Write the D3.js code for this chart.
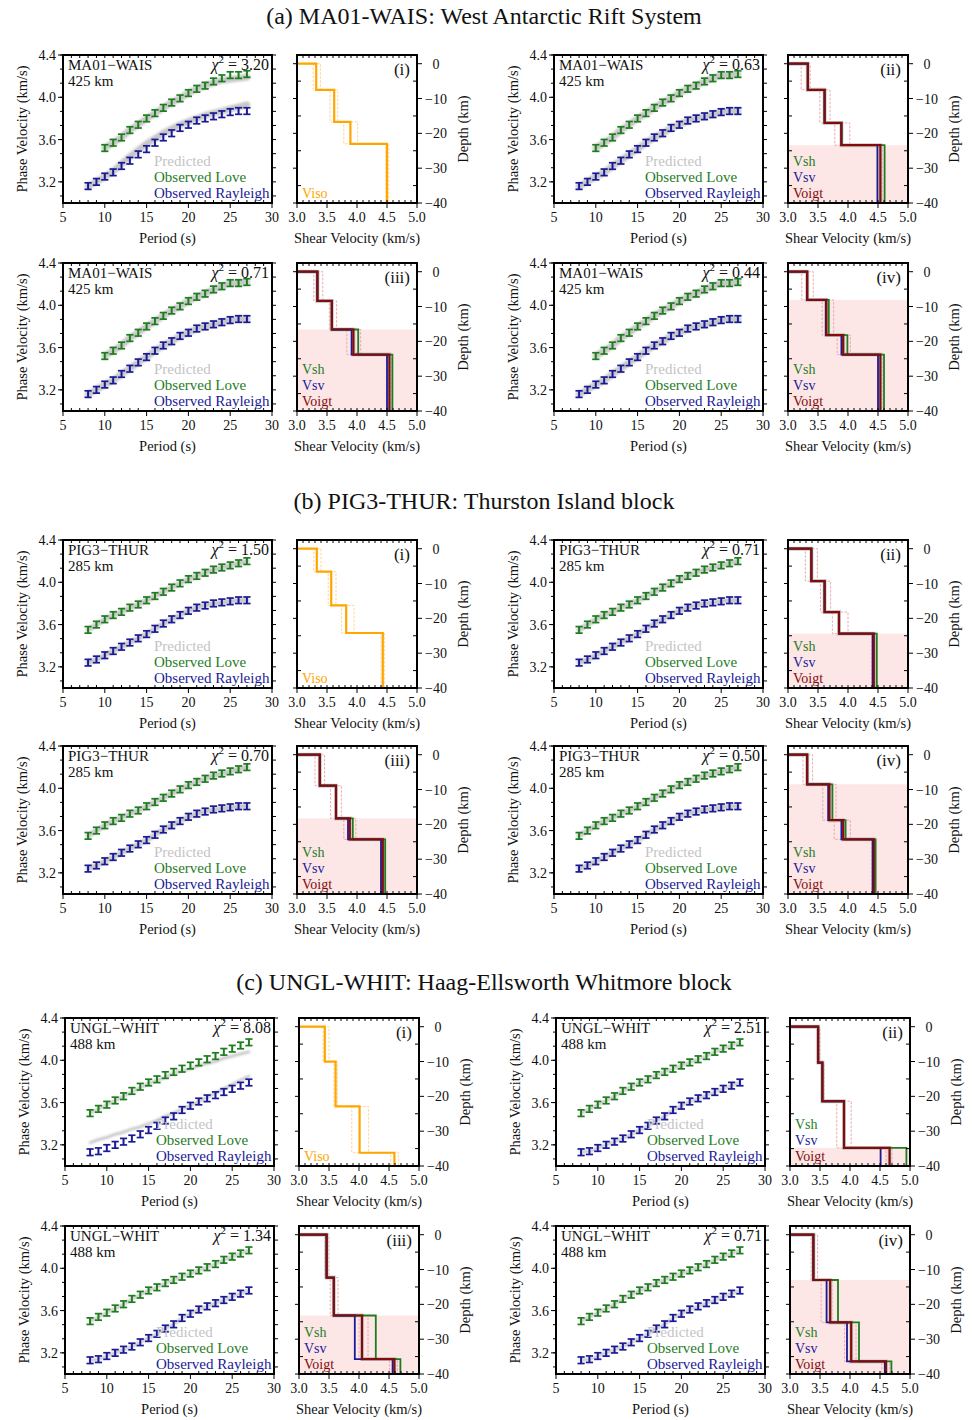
<!DOCTYPE html>
<html>
<head>
<meta charset="utf-8">
<script src="https://cdn.jsdelivr.net/npm/d3@7"></script>
<style>
  body { margin: 0; background: #fff; }
  svg text { font-family: "Liberation Serif", "Times New Roman", serif; fill: #111; }
</style>
</head>
<body>
<svg id="fig" width="972" height="1420"></svg>
<script>
// ---------------- periods (s) ----------------
const periodsRay    = [8, 9, 10, 11, 12, 13, 14, 15, 16, 17, 18, 19, 20, 21, 22, 23, 24, 25, 26, 27];
const periodsLoveA  = [10, 11, 12, 13, 14, 15, 16, 17, 18, 19, 20, 21, 22, 23, 24, 25, 26, 27];
const periodsLoveBC = [8, 9, 10, 11, 12, 13, 14, 15, 16, 17, 18, 19, 20, 21, 22, 23, 24, 25, 26, 27];
const obsUncert = 0.031;   // km/s, half-height of the error bars

// ---------------- (a) MA01-WAIS dispersion (km/s) ----------------
const aLoveObs  = [3.52, 3.57, 3.62, 3.69, 3.74, 3.80, 3.85, 3.90, 3.95, 3.99, 4.04, 4.08, 4.11, 4.15, 4.18, 4.21, 4.21, 4.22];
const aRayObs   = [3.16, 3.20, 3.25, 3.29, 3.35, 3.40, 3.46, 3.51, 3.57, 3.62, 3.66, 3.71, 3.74, 3.78, 3.80, 3.82, 3.84, 3.86, 3.87, 3.87];
const aLovePredIso = [3.52, 3.57, 3.62, 3.69, 3.74, 3.80, 3.85, 3.90, 3.95, 3.99, 4.04, 4.08, 4.11, 4.14, 4.16, 4.17, 4.18, 4.19];
const aRayPredIso  = [3.16, 3.20, 3.25, 3.30, 3.37, 3.44, 3.50, 3.56, 3.61, 3.66, 3.70, 3.74, 3.77, 3.80, 3.83, 3.85, 3.87, 3.89, 3.91, 3.93];

// ---------------- (b) PIG3-THUR dispersion ----------------
const bLoveObs  = [3.55, 3.60, 3.65, 3.69, 3.72, 3.76, 3.79, 3.83, 3.87, 3.91, 3.95, 3.99, 4.03, 4.06, 4.09, 4.12, 4.14, 4.16, 4.18, 4.20];
const bRayObs   = [3.24, 3.27, 3.31, 3.35, 3.39, 3.43, 3.47, 3.51, 3.56, 3.61, 3.65, 3.69, 3.73, 3.76, 3.78, 3.80, 3.81, 3.82, 3.83, 3.83];

// ---------------- (c) UNGL-WHIT dispersion ----------------
const cLoveObs  = [3.50, 3.54, 3.58, 3.62, 3.66, 3.71, 3.75, 3.79, 3.82, 3.86, 3.89, 3.92, 3.95, 3.98, 4.01, 4.04, 4.08, 4.11, 4.14, 4.17];
const cRayObs   = [3.13, 3.14, 3.17, 3.20, 3.23, 3.26, 3.30, 3.34, 3.38, 3.43, 3.47, 3.53, 3.57, 3.61, 3.64, 3.67, 3.70, 3.73, 3.76, 3.79];
const cLovePredIso = [3.50, 3.54, 3.58, 3.62, 3.66, 3.70, 3.74, 3.78, 3.81, 3.84, 3.88, 3.90, 3.92, 3.95, 3.97, 3.99, 4.02, 4.04, 4.06, 4.08];
const cRayPredIso  = [3.22, 3.25, 3.27, 3.30, 3.32, 3.35, 3.37, 3.40, 3.43, 3.47, 3.50, 3.54, 3.57, 3.61, 3.65, 3.69, 3.73, 3.77, 3.81, 3.85];

// ---------------- chi-square misfits ----------------
const aChi2 = ["3.20", "0.63", "0.71", "0.44"];
const bChi2 = ["1.50", "0.71", "0.70", "0.50"];
const cChi2 = ["8.08", "2.51", "1.34", "0.71"];

// ---------------- shear-velocity models: layer interfaces (km) and Vs (km/s) ----------------
// (a)
const aDepthI = [0, -7.5, -16.7, -23.0, -40];
const aVisoI  = [3.32, 3.62, 3.89, 4.50];
const aLoI    = [3.27, 3.55, 3.78, 4.48];
const aHiI    = [3.39, 3.68, 4.01, 4.53];

const aDepthII = [0, -7.5, -17.0, -23.4, -40];
const aVoigtII = [3.33, 3.61, 3.89, 4.54];
const aVshII   = [3.33, 3.61, 3.89, 4.61];
const aVsvII   = [3.33, 3.61, 3.89, 4.49];
const aLoII    = [3.22, 3.53, 3.78, 4.51];
const aHiII    = [3.37, 3.70, 4.03, 4.57];
const aAnisoTopII = -23.4;

const aDepthIII = [0, -8.4, -16.6, -23.8, -40];
const aVoigtIII = [3.34, 3.58, 3.94, 4.54];
const aVshIII   = [3.34, 3.58, 4.02, 4.59];
const aVsvIII   = [3.34, 3.58, 3.91, 4.50];
const aLoIII    = [3.28, 3.54, 3.83, 4.51];
const aHiIII    = [3.43, 3.66, 4.06, 4.57];
const aAnisoTopIII = -16.6;

const aDepthIV = [0, -8.1, -18.2, -23.8, -40];
const aVoigtIV = [3.32, 3.64, 3.92, 4.54];
const aVshIV   = [3.32, 3.68, 3.99, 4.60];
const aVsvIV   = [3.32, 3.63, 3.89, 4.50];
const aLoIV    = [3.23, 3.57, 3.82, 4.51];
const aHiIV    = [3.42, 3.76, 4.04, 4.57];
const aAnisoTopIV = -8.1;

// (b)
const bDepthI = [0, -6.6, -16.3, -24.2, -40];
const bVisoI  = [3.33, 3.57, 3.82, 4.43];
const bLoI    = [3.28, 3.52, 3.74, 4.40];
const bHiI    = [3.40, 3.65, 3.95, 4.46];

const bDepthII = [0, -9.3, -18.2, -24.4, -40];
const bVoigtII = [3.39, 3.61, 3.85, 4.43];
const bVshII   = [3.39, 3.61, 3.85, 4.48];
const bVsvII   = [3.39, 3.61, 3.85, 4.41];
const bLoII    = [3.29, 3.54, 3.74, 4.40];
const bHiII    = [3.49, 3.71, 4.00, 4.46];
const bAnisoTopII = -24.4;

const bDepthIII = [0, -8.9, -18.3, -24.3, -40];
const bVoigtIII = [3.38, 3.65, 3.88, 4.43];
const bVshIII   = [3.38, 3.65, 3.93, 4.47];
const bVsvIII   = [3.38, 3.65, 3.85, 4.40];
const bLoIII    = [3.30, 3.56, 3.78, 4.40];
const bHiIII    = [3.46, 3.74, 3.98, 4.46];
const bAnisoTopIII = -18.3;

const bDepthIV = [0, -8.5, -18.8, -24.3, -40];
const bVoigtIV = [3.32, 3.69, 3.92, 4.43];
const bVshIV   = [3.32, 3.74, 3.96, 4.46];
const bVsvIV   = [3.32, 3.67, 3.89, 4.41];
const bLoIV    = [3.25, 3.58, 3.77, 4.40];
const bHiIV    = [3.41, 3.80, 4.04, 4.46];
const bAnisoTopIV = -8.5;

// (c)
const cDepthI = [0, -10.0, -22.9, -36.2, -40];
const cVisoI  = [3.43, 3.61, 4.01, 4.59];
const cLoI    = [3.40, 3.58, 3.88, 4.53];
const cHiI    = [3.50, 3.64, 4.16, 4.66];

const cDepthII = [0, -10.3, -21.4, -34.8, -40];
const cVoigtII = [3.47, 3.54, 3.90, 4.66];
const cVshII   = [3.47, 3.54, 3.90, 4.94];
const cVsvII   = [3.47, 3.54, 3.90, 4.51];
const cLoII    = [3.44, 3.52, 3.78, 4.60];
const cHiII    = [3.50, 3.57, 4.02, 4.70];
const cAnisoTopII = -34.8;

const cDepthIII = [0, -12.3, -23.2, -35.7, -40];
const cVoigtIII = [3.46, 3.58, 4.05, 4.59];
const cVshIII   = [3.46, 3.58, 4.28, 4.69];
const cVsvIII   = [3.46, 3.58, 3.93, 4.56];
const cLoIII    = [3.43, 3.52, 4.00, 4.51];
const cHiIII    = [3.50, 3.65, 4.15, 4.64];
const cAnisoTopIII = -23.2;

const cDepthIV = [0, -13.0, -25.2, -36.4, -40];
const cVoigtIV = [3.39, 3.67, 4.02, 4.60];
const cVshIV   = [3.39, 3.80, 4.15, 4.69];
const cVsvIV   = [3.39, 3.61, 3.95, 4.58];
const cLoIV    = [3.35, 3.52, 3.91, 4.53];
const cHiIV    = [3.46, 3.70, 4.10, 4.66];
const cAnisoTopIV = -13.0;

// ---------------- assemble figure description ----------------
const romans = ["(i)", "(ii)", "(iii)", "(iv)"];
function aniso(depth, voigt, vsh, vsv, lo, hi, top) {
  return { type: "aniso", depth, voigt, vsh, vsv, lo, hi, top };
}
function iso(depth, viso, lo, hi) { return { type: "iso", depth, viso, lo, hi }; }

const sections = [
  { title: "(a) MA01-WAIS: West Antarctic Rift System", station: "MA01\u2212WAIS", dist: "425 km",
    loveP: periodsLoveA, loveObs: aLoveObs, rayObs: aRayObs, chi2: aChi2,
    lovePred: [aLovePredIso, aLoveObs, aLoveObs, aLoveObs], rayPred: [aRayPredIso, aRayObs, aRayObs, aRayObs],
    models: [iso(aDepthI, aVisoI, aLoI, aHiI),
             aniso(aDepthII, aVoigtII, aVshII, aVsvII, aLoII, aHiII, aAnisoTopII),
             aniso(aDepthIII, aVoigtIII, aVshIII, aVsvIII, aLoIII, aHiIII, aAnisoTopIII),
             aniso(aDepthIV, aVoigtIV, aVshIV, aVsvIV, aLoIV, aHiIV, aAnisoTopIV)] },
  { title: "(b) PIG3-THUR: Thurston Island block", station: "PIG3\u2212THUR", dist: "285 km",
    loveP: periodsLoveBC, loveObs: bLoveObs, rayObs: bRayObs, chi2: bChi2,
    lovePred: [bLoveObs, bLoveObs, bLoveObs, bLoveObs], rayPred: [bRayObs, bRayObs, bRayObs, bRayObs],
    models: [iso(bDepthI, bVisoI, bLoI, bHiI),
             aniso(bDepthII, bVoigtII, bVshII, bVsvII, bLoII, bHiII, bAnisoTopII),
             aniso(bDepthIII, bVoigtIII, bVshIII, bVsvIII, bLoIII, bHiIII, bAnisoTopIII),
             aniso(bDepthIV, bVoigtIV, bVshIV, bVsvIV, bLoIV, bHiIV, bAnisoTopIV)] },
  { title: "(c) UNGL-WHIT: Haag-Ellsworth Whitmore block", station: "UNGL\u2212WHIT", dist: "488 km",
    loveP: periodsLoveBC, loveObs: cLoveObs, rayObs: cRayObs, chi2: cChi2,
    lovePred: [cLovePredIso, cLoveObs, cLoveObs, cLoveObs], rayPred: [cRayPredIso, cRayObs, cRayObs, cRayObs],
    models: [iso(cDepthI, cVisoI, cLoI, cHiI),
             aniso(cDepthII, cVoigtII, cVshII, cVsvII, cLoII, cHiII, cAnisoTopII),
             aniso(cDepthIII, cVoigtIII, cVshIII, cVsvIII, cLoIII, cHiIII, cAnisoTopIII),
             aniso(cDepthIV, cVoigtIV, cVshIV, cVsvIV, cLoIV, cHiIV, cAnisoTopIV)] }
];

// ---------------- layout & style ----------------
const GREEN = "#1f7d1f", BLUE = "#1a1a98", ORANGE = "#ffa500", DARKRED = "#820c0c";
const W_DISP = 209, W_MOD = 120, H = 148, COL_DX = 491;
const rowTops = [55, 263, 540, 746, 1018, 1226];
const titleBase = [24, 509, 990];
const sectionShift = [0, 0, 2];
const predBandWidth = [6.5, 5, 2.8];

const svg = d3.select("#fig");
const defs = svg.append("defs");
defs.append("filter").attr("id", "soft").attr("x", "-10%").attr("y", "-50%").attr("width", "120%").attr("height", "200%")
  .append("feGaussianBlur").attr("stdDeviation", 1.0);

function hTicks(g, scale, vals, yy, len) {
  g.selectAll(null).data(vals).enter().append("line")
    .attr("x1", d => scale(d)).attr("x2", d => scale(d))
    .attr("y1", yy).attr("y2", yy + len)
    .attr("stroke", "#000").attr("stroke-width", 1);
}
function vTicks(g, scale, vals, xx, len) {
  g.selectAll(null).data(vals).enter().append("line")
    .attr("y1", d => scale(d)).attr("y2", d => scale(d))
    .attr("x1", xx).attr("x2", xx + len)
    .attr("stroke", "#000").attr("stroke-width", 1);
}
function txt(g, x, y, s, opts = {}) {
  const t = g.append("text").attr("x", x).attr("y", y).attr("font-size", opts.size || 14)
    .attr("text-anchor", opts.anchor || "start").text(s);
  if (opts.fill) t.style("fill", opts.fill);
  if (opts.rotate) t.attr("transform", `rotate(-90,${x},${y})`);
  return t;
}

function drawDispersion(g, x0, y0, s, k, bandW) {
  const x = d3.scaleLinear().domain([5, 30]).range([x0, x0 + W_DISP]);
  const y = d3.scaleLinear().domain([3.0, 4.4]).range([y0 + H, y0]);
  const line = d3.line().x(d => x(d[0])).y(d => y(d[1]));

  // predicted curves (fuzzy band of model predictions)
  const preds = [[s.loveP, s.lovePred[k]], [periodsRay, s.rayPred[k]]];
  preds.forEach(([p, v]) => {
    g.append("path").datum(p.map((pp, i) => [pp, v[i]]))
      .attr("d", line).attr("fill", "none").attr("stroke", "#c6c6c6")
      .attr("stroke-width", bandW).attr("stroke-linecap", "round").attr("stroke-linejoin", "round")
      .attr("filter", "url(#soft)");
  });

  // observed dispersion with error bars
  const obs = [[s.loveP, s.loveObs, GREEN], [periodsRay, s.rayObs, BLUE]];
  obs.forEach(([p, v, col]) => {
    const pts = p.map((pp, i) => ({ p: pp, v: v[i] }));
    const eg = g.append("g").attr("stroke", col);
    eg.selectAll(null).data(pts).enter().append("line")
      .attr("stroke-width", 2)
      .attr("x1", d => x(d.p)).attr("x2", d => x(d.p))
      .attr("y1", d => y(d.v - obsUncert)).attr("y2", d => y(d.v + obsUncert));
    [-1, 1].forEach(sg => {
      eg.selectAll(null).data(pts).enter().append("line")
        .attr("stroke-width", 1.7)
        .attr("x1", d => x(d.p) - 3.6).attr("x2", d => x(d.p) + 3.6)
        .attr("y1", d => y(d.v + sg * obsUncert)).attr("y2", d => y(d.v + sg * obsUncert));
    });
  });

  // frame
  g.append("rect").attr("x", x0).attr("y", y0).attr("width", W_DISP).attr("height", H)
    .attr("fill", "none").attr("stroke", "#000").attr("stroke-width", 2);

  // ticks
  const xMajor = [5, 10, 15, 20, 25, 30];
  const xMinor = d3.range(5, 31).filter(v => v % 5 !== 0);
  hTicks(g, x, xMajor, y0 + H, 5);
  hTicks(g, x, xMinor, y0 + H, -3);
  hTicks(g, x, d3.range(5, 31), y0, 3);
  const yMajor = [3.2, 3.6, 4.0, 4.4];
  const yAll = d3.range(0, 11).map(i => 4.4 - i * 0.4 / 3);
  vTicks(g, y, yAll, x0, -3);
  vTicks(g, y, yMajor, x0, -5);
  vTicks(g, y, yAll, x0 + W_DISP, 4);

  xMajor.forEach(v => txt(g, x(v), y0 + H + 19, String(v), { anchor: "middle" }));
  yMajor.forEach(v => txt(g, x0 - 7, y(v) + 5, v.toFixed(1), { anchor: "end" }));
  txt(g, x0 + W_DISP / 2, y0 + H + 40, "Period (s)", { anchor: "middle", size: 14.5 });
  txt(g, x0 - 36, y0 + H / 2, "Phase Velocity (km/s)", { anchor: "middle", size: 14.5, rotate: true });

  // annotations
  txt(g, x0 + 5, y0 + 15, s.station, { size: 15 });
  txt(g, x0 + 5, y0 + 31, s.dist, { size: 15 });
  const chi = g.append("text").attr("x", x0 + W_DISP - 3).attr("y", y0 + 15)
    .attr("text-anchor", "end").attr("font-size", 16);
  chi.append("tspan").attr("font-style", "italic").text("\u03C7");
  chi.append("tspan").attr("font-size", 11).attr("dy", -7).text("2");
  chi.append("tspan").attr("dy", 7).text(" = " + s.chi2[k]);

  // legend
  txt(g, x0 + 91, y0 + 111, "Predicted", { size: 15, fill: "#c4c4c4" });
  txt(g, x0 + 91, y0 + 127, "Observed Love", { size: 15, fill: GREEN });
  txt(g, x0 + 91, y0 + 143, "Observed Rayleigh", { size: 15, fill: BLUE });
}

function stepPoints(depth, vel) {
  const pts = [[3.0, depth[0]]];
  vel.forEach((v, i) => { pts.push([v, depth[i]]); pts.push([v, depth[i + 1]]); });
  return pts;
}

function drawModel(g, x0, y0, m, k) {
  const x = d3.scaleLinear().domain([3.0, 5.0]).range([x0, x0 + W_MOD]);
  const y = d3.scaleLinear().domain([-40, 2.5]).range([y0 + H, y0]);
  const line = d3.line().x(d => x(d[0])).y(d => y(d[1]));
  const clipId = "clip" + Math.round(x0) + "_" + Math.round(y0);
  defs.append("clipPath").attr("id", clipId).append("rect")
    .attr("x", x0).attr("y", y0).attr("width", W_MOD).attr("height", H);
  const inner = g.append("g").attr("clip-path", `url(#${clipId})`);

  if (m.type === "aniso") {
    inner.append("rect").attr("x", x(3.0)).attr("width", x(5.0) - x(3.0))
      .attr("y", y(m.top)).attr("height", y(-40) - y(m.top)).attr("fill", "#fde6e6");
  }
  const boundCol = m.type === "iso" ? "#ffcf8c" : "#e9a3a3";
  [m.lo, m.hi].forEach(b => {
    inner.append("path").attr("d", line(stepPoints(m.depth, b)))
      .attr("fill", "none").attr("stroke", boundCol).attr("stroke-width", 0.9).attr("stroke-dasharray", "2.5,1.5");
  });

  if (m.type === "iso") {
    inner.append("path").attr("d", line(stepPoints(m.depth, m.viso)))
      .attr("fill", "none").attr("stroke", ORANGE).attr("stroke-width", 2.2);
  } else {
    inner.append("path").attr("d", line(stepPoints(m.depth, m.voigt)))
      .attr("fill", "none").attr("stroke", "#c9c9c9").attr("stroke-width", 4);
    inner.append("path").attr("d", line(stepPoints(m.depth, m.vsh)))
      .attr("fill", "none").attr("stroke", GREEN).attr("stroke-width", 1.8);
    inner.append("path").attr("d", line(stepPoints(m.depth, m.vsv)))
      .attr("fill", "none").attr("stroke", BLUE).attr("stroke-width", 1.8);
    inner.append("path").attr("d", line(stepPoints(m.depth, m.voigt)))
      .attr("fill", "none").attr("stroke", DARKRED).attr("stroke-width", 2.2);
  }

  g.append("rect").attr("x", x0).attr("y", y0).attr("width", W_MOD).attr("height", H)
    .attr("fill", "none").attr("stroke", "#000").attr("stroke-width", 2);

  // ticks
  const xMajor = [3.0, 3.5, 4.0, 4.5, 5.0];
  const xMinor = d3.range(0, 21).map(i => 3.0 + i * 0.1);
  hTicks(g, x, xMajor, y0 + H, 5);
  hTicks(g, x, xMinor, y0 + H, -3);
  hTicks(g, x, xMinor, y0, 3);
  const dMajor = [0, -10, -20, -30, -40];
  const dMinor = [-5, -15, -25, -35];
  vTicks(g, y, dMajor, x0, -4);
  vTicks(g, y, dMinor, x0, 4);
  vTicks(g, y, dMajor, x0 + W_MOD, 5);
  vTicks(g, y, dMinor, x0 + W_MOD, -4);

  const fmtD = d3.format("d");
  xMajor.forEach(v => txt(g, x(v), y0 + H + 19, v.toFixed(1), { anchor: "middle" }));
  dMajor.forEach(v => txt(g, x0 + W_MOD + 19, y(v) + 5, fmtD(v), { anchor: "middle" }));
  txt(g, x0 + W_MOD / 2, y0 + H + 40, "Shear Velocity (km/s)", { anchor: "middle", size: 14.5 });
  txt(g, x0 + W_MOD + 51, y0 + H / 2, "Depth (km)", { anchor: "middle", size: 14.5, rotate: true });

  txt(g, x0 + W_MOD - 7, y0 + 20, romans[k], { anchor: "end", size: 17 });
  if (m.type === "iso") {
    txt(g, x0 + 5, y0 + 143, "Viso", { size: 14, fill: ORANGE });
  } else {
    txt(g, x0 + 5, y0 + 111, "Vsh", { size: 14, fill: GREEN });
    txt(g, x0 + 5, y0 + 127, "Vsv", { size: 14, fill: BLUE });
    txt(g, x0 + 5, y0 + 143, "Voigt", { size: 14, fill: DARKRED });
  }
}

sections.forEach((s, si) => {
  txt(svg, 484, titleBase[si], s.title, { anchor: "middle", size: 24 });
  s.models.forEach((m, k) => {
    const row = Math.floor(k / 2), col = k % 2;
    const top = rowTops[si * 2 + row];
    const dx = col * COL_DX + sectionShift[si];
    drawDispersion(svg.append("g"), 63 + dx, top, s, k, predBandWidth[si]);
    drawModel(svg.append("g"), 297 + dx, top, m, k);
  });
});
</script>
</body>
</html>
